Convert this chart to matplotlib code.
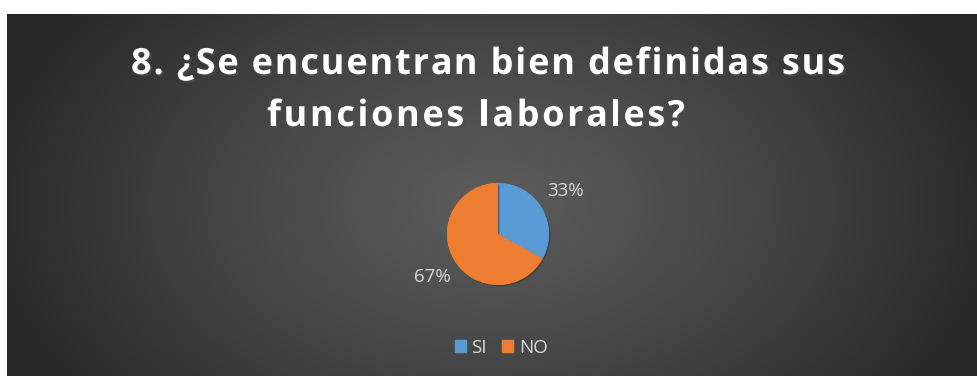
import numpy as np
import matplotlib.pyplot as plt
import matplotlib.patheffects as pe

W, H = 977, 376

lineas_titulo = ["8. ¿Se encuentran bien definidas sus", "funciones laborales?"]
categorias = ["SI", "NO"]
valores = [33, 67]
colores = ["#5B9BD5", "#ED7D31"]

fig = plt.figure(figsize=(W / 100, H / 100), dpi=100)
fig.patch.set_facecolor("white")

# fondo oscuro con degradado radial
bg = fig.add_axes([7 / W, 0, (W - 7) / W, (H - 14) / H])
yy, xx = np.mgrid[0:362, 0:970]
d = np.sqrt(((xx - 485) / 520.0) ** 2 + ((yy - 190) / 330.0) ** 2)
d = np.clip(d, 0, 1)
c_in, c_out = 0.36, 0.155
img = c_in + (c_out - c_in) * d ** 1.2
bg.imshow(np.dstack([img, img, img]), aspect="auto", extent=[0, 1, 0, 1])
bg.set_axis_off()

# titulo con espaciado entre letras (px: izquierda, derecha, linea base)
renderer = fig.canvas.get_renderer()
estilo = dict(color="white", fontsize=26, fontweight="bold", family="Open Sans",
              path_effects=[pe.withSimplePatchShadow(offset=(1.5, -1.5), alpha=0.6)])
cajas = [(131, 845, 74), (267, 685, 126)]


def ancho(s):
    t = fig.text(0, 0, s + "|", **estilo)
    w = t.get_window_extent(renderer).width
    t.remove()
    t = fig.text(0, 0, "|", **estilo)
    w -= t.get_window_extent(renderer).width
    t.remove()
    return w


for linea, (x0, x1, base) in zip(lineas_titulo, cajas):
    nat = ancho(linea)
    esp = (x1 - x0 - nat) / (len(linea) - 1)
    for i, ch in enumerate(linea):
        if ch == " ":
            continue
        px = x0 + ancho(linea[:i]) + i * esp
        fig.text(px / W, 1 - base / H, ch, ha="left", va="baseline", **estilo)

# pastel
r = 51
cx, cy = 498, 234
ax = fig.add_axes([(cx - r) / W, 1 - (cy + r) / H, 2 * r / W, 2 * r / H])
wedges, _ = ax.pie(valores, colors=colores, startangle=90, counterclock=False,
                   radius=1.0, wedgeprops=dict(linewidth=0))
ax.set_xlim(-1, 1)
ax.set_ylim(-1, 1)
ax.set_aspect("auto")
for w in wedges:
    w.set_path_effects([pe.withSimplePatchShadow(offset=(1, -1), alpha=0.5), pe.Normal()])

etq_pos = [(566, 191), (432, 277)]
for v, (px, py) in zip(valores, etq_pos):
    fig.text(px / W, 1 - py / H, f"{v}%", ha="center", va="center",
             color="#d9d9d9", fontsize=13.5, family="Open Sans")

handles = [plt.Rectangle((0, 0), 1, 1, color=c) for c in colores]
fig.legend(handles, categorias, loc="center", bbox_to_anchor=(501 / W, 1 - 348 / H),
           ncol=2, frameon=False, labelcolor="#d9d9d9",
           handlelength=0.6, handleheight=0.6, handletextpad=0.3, columnspacing=0.8,
           prop={"family": "Open Sans", "size": 13.5})

fig.savefig("out.png", dpi=100)
